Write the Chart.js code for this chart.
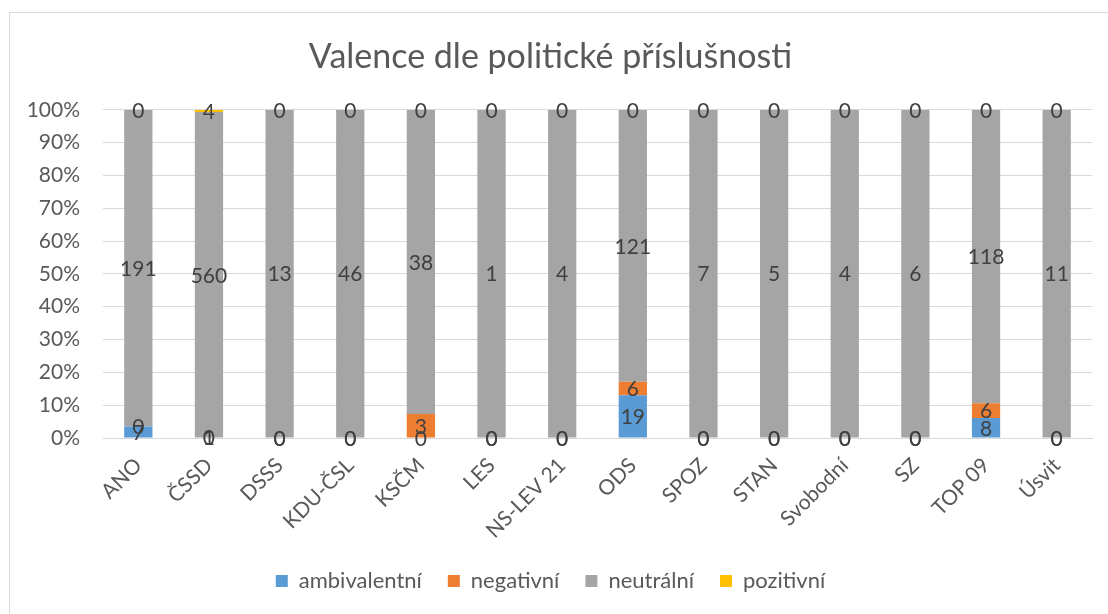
<!DOCTYPE html>
<html>
<head>
<meta charset="utf-8">
<script src="https://cdn.jsdelivr.net/npm/chart.js@4"></script>
<style>
    html, body { margin: 0; padding: 0; background: #ffffff; }
    #wrap { position: relative; width: 1108px; height: 614px; }
</style>
</head>
<body>
<div id="wrap"><canvas id="valenceChart"></canvas></div>
<script>
// Party names (x axis)
const parties = ['ANO', 'ČSSD', 'DSSS', 'KDU-ČSL', 'KSČM', 'LES', 'NS-LEV 21', 'ODS', 'SPOZ', 'STAN', 'Svobodní', 'SZ', 'TOP 09', 'Úsvit'];

// Counts per valence
const ambivalentni = [7, 1, 0, 0, 0, 0, 0, 19, 0, 0, 0, 0, 8, 0];
const negativni    = [0, 0, 0, 0, 3, 0, 0, 6, 0, 0, 0, 0, 6, 0];
const neutralni    = [191, 560, 13, 46, 38, 1, 4, 121, 7, 5, 4, 6, 118, 11];
const pozitivni    = [0, 4, 0, 0, 0, 0, 0, 0, 0, 0, 0, 0, 0, 0];

const yTicks = [0, 10, 20, 30, 40, 50, 60, 70, 80, 90, 100];

const FONT = 'Lato';
const TEXT = '#595959';

// 100% stacked: turn counts into shares
const totals = parties.map((p, i) => ambivalentni[i] + negativni[i] + neutralni[i] + pozitivni[i]);
function share(arr) {
    return arr.map((v, i) => totals[i] ? v / totals[i] * 100 : 0);
}

// Excel-style value labels, centred in each segment (zeros included)
const segmentLabels = {
    id: 'segmentLabels',
    afterDatasetsDraw(chart) {
        const ctx = chart.ctx;
        ctx.save();
        ctx.font = '21px ' + FONT;
        ctx.fillStyle = '#404040';
        ctx.textAlign = 'center';
        ctx.textBaseline = 'middle';
        chart.data.datasets.forEach((ds, di) => {
            const meta = chart.getDatasetMeta(di);
            meta.data.forEach((bar, i) => {
                const y = (bar.y + bar.base) / 2;
                ctx.fillText(String(ds.counts[i]), bar.x, y + 1);
            });
        });
        ctx.restore();
    }
};

// Light chart-area frame
const frame = {
    id: 'frame',
    beforeDraw(chart) {
        const ctx = chart.ctx;
        ctx.save();
        ctx.strokeStyle = '#d9d9d9';
        ctx.lineWidth = 1;
        ctx.strokeRect(9.5, 12.5, 1110, 620);
        ctx.restore();
    }
};

const ctx = document.getElementById('valenceChart').getContext('2d');
new Chart(ctx, {
    type: 'bar',
    data: {
        labels: parties,
        datasets: [
            { label: 'ambivalentní', data: share(ambivalentni), counts: ambivalentni, backgroundColor: '#5b9bd5' },
            { label: 'negativní', data: share(negativni), counts: negativni, backgroundColor: '#ed7d31' },
            { label: 'neutrální', data: share(neutralni), counts: neutralni, backgroundColor: '#a5a5a5' },
            { label: 'pozitivní', data: share(pozitivni), counts: pozitivni, backgroundColor: '#ffc000' }
        ]
    },
    options: {
        responsive: true,
        maintainAspectRatio: false,
        animation: false,
        barPercentage: 0.4,
        categoryPercentage: 1,
        layout: {
            padding: { left: 9, right: 16, top: 12, bottom: 12 }
        },
        plugins: {
            title: {
                display: true,
                text: 'Valence dle politické příslušnosti',
                color: TEXT,
                font: { family: FONT, size: 34, weight: 'normal' },
                padding: { top: 25, bottom: 32 }
            },
            legend: {
                position: 'bottom',
                labels: {
                    color: TEXT,
                    font: { family: FONT, size: 22 },
                    boxWidth: 12,
                    boxHeight: 12,
                    padding: 26
                }
            },
            tooltip: { enabled: false }
        },
        scales: {
            x: {
                stacked: true,
                grid: { display: false },
                border: { color: '#d9d9d9' },
                ticks: {
                    color: TEXT,
                    font: { family: FONT, size: 21 },
                    minRotation: 45,
                    maxRotation: 45,
                    padding: 7
                },
                afterFit(scale) { scale.height = 106; }
            },
            y: {
                stacked: true,
                min: 0,
                max: 100,
                afterBuildTicks(scale) { scale.ticks = yTicks.map(v => ({ value: v })); },
                grid: { color: '#d9d9d9', drawTicks: false },
                border: { display: false },
                ticks: {
                    color: TEXT,
                    font: { family: FONT, size: 21 },
                    padding: 23,
                    callback: v => v + '%'
                },
                afterFit(scale) { scale.width = 94; }
            }
        }
    },
    plugins: [frame, segmentLabels]
});
</script>
</body>
</html>
